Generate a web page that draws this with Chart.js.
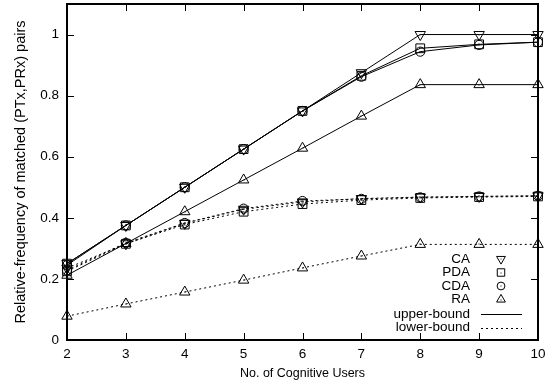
<!DOCTYPE html>
<html>
<head>
<meta charset="utf-8">
<title>Relative-frequency of matched pairs</title>
<script src="https://cdn.jsdelivr.net/npm/chart.js@4/dist/chart.umd.min.js"></script>
<style>
  html, body { margin: 0; padding: 0; background: #fff; }
  #wrap { width: 557px; height: 383px; }
</style>
</head>
<body>
<div id="wrap"><canvas id="chart" width="557" height="383"></canvas></div>
<script>
// number of cognitive users (x axis)
const users = [2, 3, 4, 5, 6, 7, 8, 9, 10];
const yTicks = [0, 0.2, 0.4, 0.6, 0.8, 1];

// upper-bound results
const caUpper  = [0.250, 0.375, 0.500, 0.625, 0.750, 0.875, 1.000, 1.000, 1.000];
const pdaUpper = [0.250, 0.375, 0.500, 0.625, 0.750, 0.865, 0.955, 0.968, 0.975];
const cdaUpper = [0.245, 0.375, 0.500, 0.625, 0.750, 0.862, 0.944, 0.966, 0.975];
const raUpper  = [0.212, 0.316, 0.420, 0.524, 0.628, 0.733, 0.836, 0.836, 0.836];

// lower-bound results
const caLower  = [0.235, 0.315, 0.382, 0.428, 0.452, 0.463, 0.468, 0.470, 0.472];
const pdaLower = [0.225, 0.315, 0.378, 0.420, 0.445, 0.458, 0.465, 0.468, 0.470];
const cdaLower = [0.228, 0.318, 0.383, 0.430, 0.455, 0.462, 0.467, 0.470, 0.472];
const raLower  = [0.078, 0.118, 0.157, 0.196, 0.236, 0.275, 0.313, 0.313, 0.313];

const algoNames = ['CA', 'PDA', 'CDA', 'RA'];
const boundNames = ['upper-bound', 'lower-bound'];

const FONT = '"Liberation Sans", Arial, Helvetica, sans-serif';

// marker style per algorithm
const markers = {
    CA:  { pointStyle: 'triangle', rotation: 180, radius: 6 },
    PDA: { pointStyle: 'rect', rotation: 0, radius: 6.2 },
    CDA: { pointStyle: 'circle', rotation: 0, radius: 4.6 },
    RA:  { pointStyle: 'triangle', rotation: 0, radius: 6 }
};
const dashLower = [2, 3];

function makeSet(name, data, lower) {
    const m = markers[name];
    return {
        label: name + (lower ? ' lower-bound' : ' upper-bound'),
        data: data,
        borderColor: '#000',
        borderWidth: 1,
        borderDash: lower ? dashLower : [],
        backgroundColor: 'rgba(0,0,0,0)',
        pointStyle: m.pointStyle,
        pointRotation: m.rotation,
        pointRadius: m.radius,
        pointBorderColor: '#000',
        pointBorderWidth: 1,
        pointBackgroundColor: 'rgba(0,0,0,0)',
        tension: 0,
        fill: false
    };
}

// frame, inward tick marks and the small dot in each marker
const framePlugin = {
    id: 'frame',
    afterDatasetsDraw(chart) {
        const { ctx, chartArea: a, scales } = chart;
        ctx.save();
        ctx.fillStyle = '#000';
        chart.data.datasets.forEach((ds, i) => {
            chart.getDatasetMeta(i).data.forEach(p => {
                ctx.fillRect(Math.round(p.x) - 0.5, Math.round(p.y) - 0.5, 1, 1);
            });
        });
        ctx.strokeStyle = '#000';
        ctx.lineWidth = 1;
        const tl = 7;
        ctx.beginPath();
        scales.y.ticks.forEach(t => {
            const y = Math.round(scales.y.getPixelForValue(t.value)) + 0.5;
            ctx.moveTo(a.left, y); ctx.lineTo(a.left + tl, y);
            ctx.moveTo(a.right, y); ctx.lineTo(a.right - tl, y);
        });
        scales.x.ticks.forEach((t, i) => {
            const x = Math.round(scales.x.getPixelForTick(i)) + 0.5;
            ctx.moveTo(x, a.bottom); ctx.lineTo(x, a.bottom - tl);
            ctx.moveTo(x, a.top); ctx.lineTo(x, a.top + tl);
        });
        ctx.stroke();
        ctx.lineWidth = 2;
        ctx.strokeRect(a.left, a.top, a.right - a.left, a.bottom - a.top);
        ctx.restore();
    }
};

// key in the lower right corner of the plot
const keyPlugin = {
    id: 'key',
    afterDraw(chart) {
        const { ctx } = chart;
        const textRight = 470, symX = 501, rowY = 259, rowH = 13.5;
        ctx.save();
        ctx.font = '13.5px ' + FONT;
        ctx.textAlign = 'right';
        ctx.textBaseline = 'middle';
        ctx.strokeStyle = '#000';
        ctx.lineWidth = 1;
        algoNames.forEach((name, i) => {
            const y = rowY + i * rowH;
            ctx.fillStyle = '#000';
            ctx.fillText(name, textRight, y);
            const m = markers[name];
            ctx.fillStyle = 'rgba(0,0,0,0)';
            Chart.helpers.drawPoint(ctx, {
                pointStyle: m.pointStyle, rotation: m.rotation,
                radius: m.radius * 0.85, borderWidth: 1
            }, symX, y);
            ctx.fillStyle = '#000';
            ctx.fillRect(symX - 0.5, Math.round(y) - 0.5, 1, 1);
        });
        boundNames.forEach((name, j) => {
            const y = rowY + (algoNames.length + j) * rowH + 1;
            ctx.fillStyle = '#000';
            ctx.fillText(name, textRight, y);
            ctx.beginPath();
            ctx.setLineDash(j === 0 ? [] : dashLower);
            const ly = Math.round(y) + 0.5;
            ctx.moveTo(481, ly); ctx.lineTo(522, ly);
            ctx.stroke();
        });
        ctx.restore();
    }
};

const ctx = document.getElementById('chart').getContext('2d');
new Chart(ctx, {
    type: 'line',
    data: {
        labels: users,
        datasets: [
            makeSet('CA', caUpper, false),
            makeSet('PDA', pdaUpper, false),
            makeSet('CDA', cdaUpper, false),
            makeSet('RA', raUpper, false),
            makeSet('CA', caLower, true),
            makeSet('PDA', pdaLower, true),
            makeSet('CDA', cdaLower, true),
            makeSet('RA', raLower, true)
        ]
    },
    options: {
        responsive: false,
        animation: false,
        layout: { autoPadding: false, padding: { top: 4, right: 19, left: 0, bottom: 0 } },
        plugins: {
            legend: { display: false },
            tooltip: { enabled: false }
        },
        scales: {
            x: {
                type: 'category',
                offset: false,
                grid: { display: false, drawTicks: false },
                border: { display: false },
                ticks: {
                    color: '#000',
                    font: { family: FONT, size: 13.5 },
                    padding: 6,
                    maxRotation: 0
                },
                title: {
                    display: true,
                    text: 'No. of Cognitive Users',
                    color: '#000',
                    font: { family: FONT, size: 12.5 },
                    padding: { top: 0, bottom: 2 }
                },
                afterFit(scale) { scale.height = 43; }
            },
            y: {
                min: 0,
                max: 1.1,
                grid: { display: false, drawTicks: false },
                border: { display: false },
                afterBuildTicks(scale) {
                    scale.ticks = yTicks.map(v => ({ value: v }));
                },
                ticks: {
                    color: '#000',
                    font: { family: FONT, size: 13.5 },
                    padding: 8,
                    callback: v => String(+(+v).toFixed(1))
                },
                title: {
                    display: true,
                    text: 'Relative-frequency of matched (PTx,PRx) pairs',
                    color: '#000',
                    font: { family: FONT, size: 14.5 },
                    padding: { top: 12, bottom: 0 }
                },
                afterFit(scale) {
                    scale.width = 67;
                    scale.paddingTop = 0;
                    scale.paddingBottom = 0;
                }
            }
        }
    },
    plugins: [framePlugin, keyPlugin]
});
</script>
</body>
</html>
